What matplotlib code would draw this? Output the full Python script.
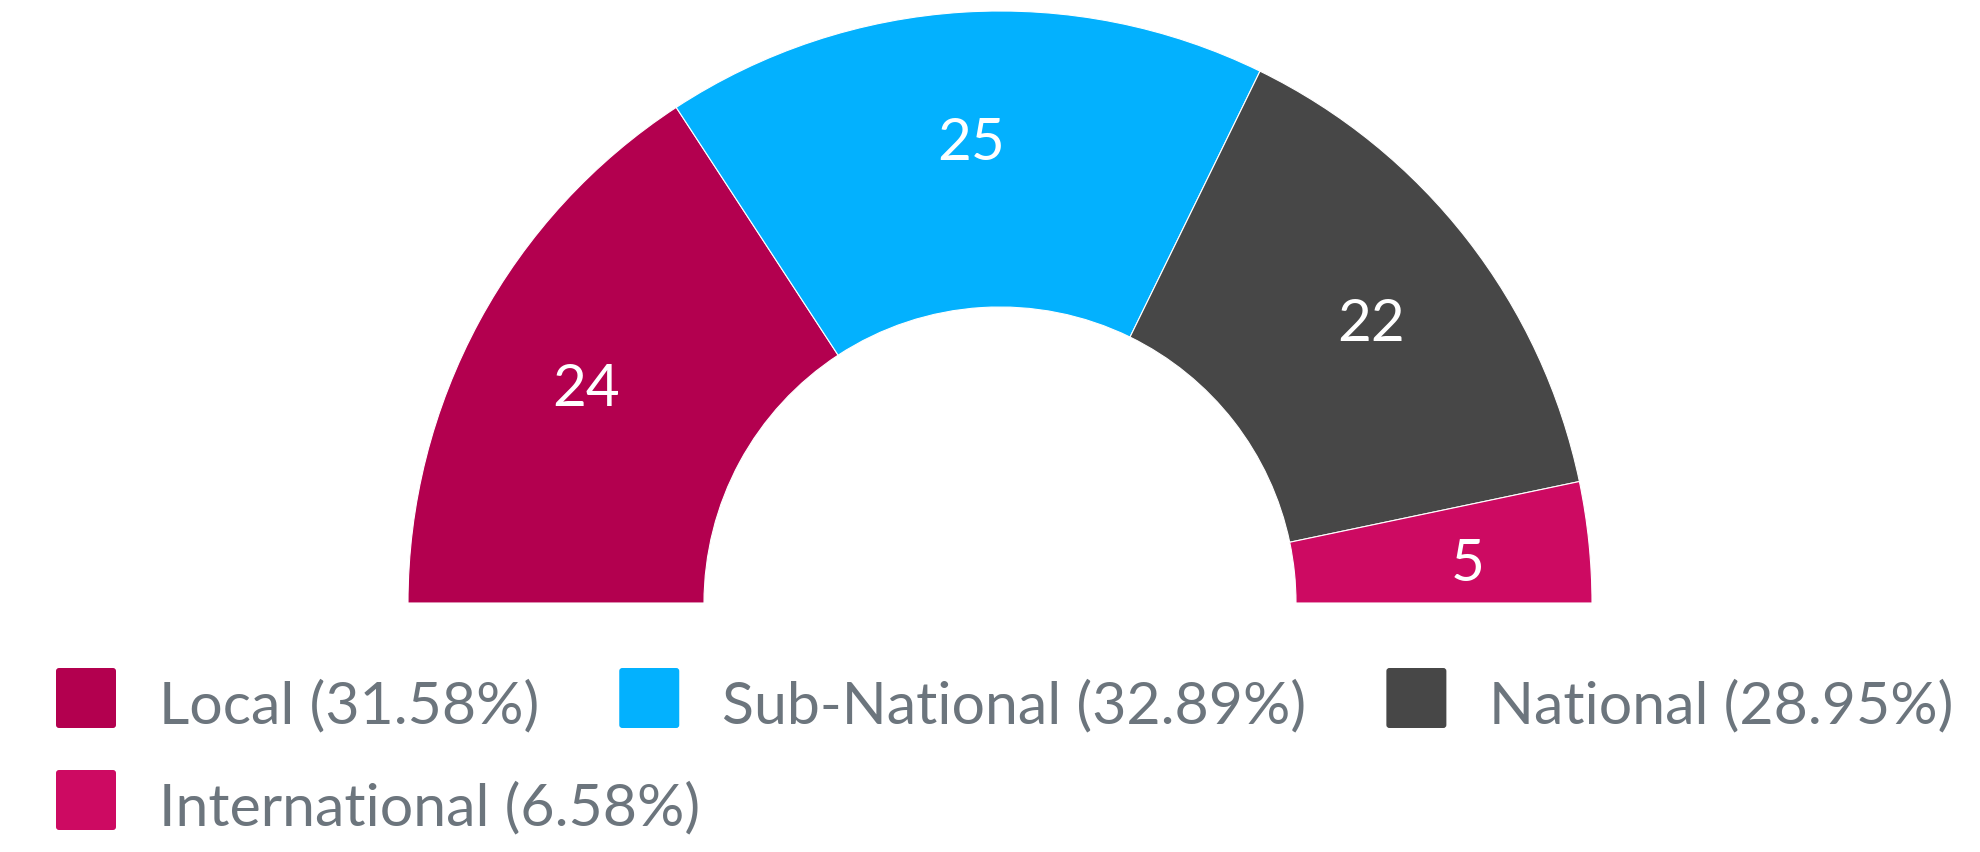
import matplotlib
matplotlib.use("Agg")
import matplotlib.pyplot as plt
import numpy as np
from matplotlib.patches import Wedge, FancyBboxPatch

categories = ["Local", "Sub-National", "National", "International"]
values = [24, 25, 22, 5]
colors = ["#B3004F", "#03B1FE", "#474747", "#CD0A62"]

W, H = 1981, 852
fig = plt.figure(figsize=(W / 100, H / 100), dpi=100)
ax = fig.add_axes([0, 0, 1, 1])
ax.set_xlim(0, W)
ax.set_ylim(0, H)
ax.set_aspect("equal")
ax.axis("off")

FONT = "Lato"
cx, cy = 1000, H - 603
R, r = 592, 296

total = sum(values)
start = 180.0
for cat, v, c in zip(categories, values, colors):
    span = 180.0 * v / total
    t2 = start
    t1 = start - span
    ax.add_patch(Wedge((cx, cy), R, t1, t2, width=R - r, facecolor=c,
                       edgecolor="white", linewidth=0.8))
    mid = np.deg2rad((t1 + t2) / 2)
    lr = 0.795 * R
    lx = cx + lr * np.cos(mid)
    ly = cy + lr * np.sin(mid)
    ax.text(lx, ly - 27, str(v), color="white", fontsize=42, family=FONT,
            ha="center", va="baseline")
    start = t1

# legend
fig.canvas.draw()
renderer = fig.canvas.get_renderer()
pcts = [100.0 * v / total for v in values]
x = 56
row = 0
sq = 60
row_gap = 102
for cat, p, c in zip(categories, pcts, colors):
    label = f"{cat} ({p:.2f}%)"
    t = ax.text(0, 0, label, fontsize=42.5, family=FONT, color="#6C757D",
                ha="left", va="baseline")
    w = t.get_window_extent(renderer).width
    if x + 103 + w > W + 10:
        x = 56
        row += 1
    top = 668 + row * row_gap
    ax.add_patch(FancyBboxPatch((x + 3, H - top - sq + 3), sq - 6, sq - 6,
                                boxstyle="round,pad=3", facecolor=c,
                                edgecolor="none"))
    t.set_position((x + 103, H - (723 + row * row_gap)))
    x = x + 103 + w + 80

fig.savefig("out.png", dpi=100, facecolor="white")
